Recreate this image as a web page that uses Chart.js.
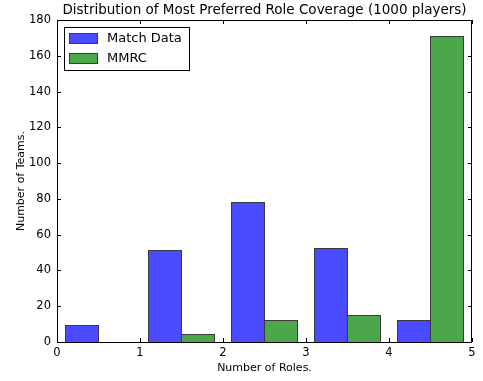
<!DOCTYPE html>
<html>
<head>
<meta charset="utf-8">
<script src="https://cdn.jsdelivr.net/npm/chart.js@4.4.0/dist/chart.umd.min.js"></script>
<style>
  body { margin: 0; background: #fff; }
  canvas { display: block; }
</style>
</head>
<body>
<canvas id="roleChart" width="483" height="381"></canvas>
<script>
// data
const roleBins = [0.5, 1.5, 2.5, 3.5, 4.5];
const matchData = [9, 51, 78, 52, 12];
const mmrcData = [0, 4, 12, 15, 171];
const xTicks = [0, 1, 2, 3, 4, 5];
const yTicks = [0, 20, 40, 60, 80, 100, 120, 140, 160, 180];

const FONT = 'DejaVu Sans';
const EDGE = '#3a3a3a';

Chart.defaults.color = '#000';
Chart.defaults.font.family = FONT;

const toPoints = (vals) => roleBins.map((x, i) => ({ x, y: vals[i] }));

// crisp bar edges over the partial pixels of the library's bar fills
const barEdges = {
  id: 'barEdges',
  afterDatasetsDraw(chart) {
    const { ctx } = chart;
    ctx.save();
    ctx.strokeStyle = EDGE;
    ctx.lineWidth = 1;
    chart.data.datasets.forEach((ds, di) => {
      chart.getDatasetMeta(di).data.forEach((bar) => {
        const l = Math.floor(bar.x - bar.width / 2);
        const r = Math.ceil(bar.x + bar.width / 2) - 1;
        const t = Math.floor(bar.y);
        const b = Math.round(bar.base);
        ctx.strokeRect(l + 0.5, t + 0.5, r - l, b - t);
      });
    });
    ctx.restore();
  }
};

// frame, inside ticks and legend box like matplotlib
const frameTicksLegend = {
  id: 'frameTicksLegend',
  afterDraw(chart) {
    const { ctx, chartArea: a, scales } = chart;
    ctx.save();
    ctx.strokeStyle = '#000';
    ctx.lineWidth = 1;
    ctx.strokeRect(a.left + 0.5, a.top + 0.5, a.right - a.left - 1, a.bottom - a.top);

    const len = 4;
    ctx.beginPath();
    xTicks.forEach((v) => {
      const px = Math.round(scales.x.getPixelForValue(v)) + 0.5;
      ctx.moveTo(px, a.bottom);
      ctx.lineTo(px, a.bottom - len);
      ctx.moveTo(px, a.top);
      ctx.lineTo(px, a.top + len);
    });
    yTicks.forEach((v) => {
      const py = Math.round(scales.y.getPixelForValue(v)) + 0.5;
      ctx.moveTo(a.left, py);
      ctx.lineTo(a.left + len, py);
      ctx.moveTo(a.right, py);
      ctx.lineTo(a.right - len, py);
    });
    ctx.stroke();

    // legend
    const bx = a.left + 7, by = a.top + 7;
    ctx.fillStyle = '#fff';
    ctx.fillRect(bx, by, 125, 43);
    ctx.strokeStyle = '#000';
    ctx.strokeRect(bx + 0.5, by + 0.5, 125, 43);
    ctx.font = '13px "' + FONT + '"';
    ctx.textBaseline = 'middle';
    chart.data.datasets.forEach((ds, i) => {
      const cy = by + 11 + i * 20;
      ctx.fillStyle = ds.backgroundColor;
      ctx.fillRect(bx + 5, cy - 5, 28, 10);
      ctx.strokeStyle = EDGE;
      ctx.strokeRect(bx + 5.5, cy - 4.5, 28, 10);
      ctx.fillStyle = '#000';
      ctx.fillText(ds.label, bx + 43, cy + 1);
    });
    ctx.restore();
  }
};

new Chart(document.getElementById('roleChart'), {
  type: 'bar',
  data: {
    datasets: [
      {
        label: 'Match Data',
        data: toPoints(matchData),
        backgroundColor: '#4a4aff',
        borderWidth: 0,
        inflateAmount: 0,
      },
      {
        label: 'MMRC',
        data: toPoints(mmrcData),
        backgroundColor: '#4ca64c',
        borderWidth: 0,
        inflateAmount: 0,
      },
    ],
  },
  options: {
    responsive: false,
    animation: false,
    categoryPercentage: 0.8,
    barPercentage: 1.0,
    layout: { padding: { left: 0, right: 11, top: 0, bottom: 0 } },
    plugins: {
      legend: { display: false },
      tooltip: { enabled: false },
      title: {
        display: true,
        fullSize: false,
        text: 'Distribution of Most Preferred Role Coverage (1000 players)',
        font: { size: 13.5, weight: 'normal' },
        padding: { top: 2, bottom: 1.8 },
      },
    },
    scales: {
      x: {
        type: 'linear',
        offset: false,
        min: 0,
        max: 5,
        afterFit: (s) => { s.height = 39; },
        afterBuildTicks: (s) => { s.ticks = xTicks.map((v) => ({ value: v })); },
        grid: { display: false, drawTicks: false },
        border: { display: false },
        ticks: { font: { size: 11.5 }, padding: 4, maxRotation: 0 },
        title: {
          display: true,
          text: 'Number of Roles.',
          font: { size: 11 },
          padding: { top: 0, bottom: 6 },
        },
      },
      y: {
        min: 0,
        max: 180,
        afterFit: (s) => { s.width = 57; },
        afterBuildTicks: (s) => { s.ticks = yTicks.map((v) => ({ value: v })); },
        grid: { display: false, drawTicks: false },
        border: { display: false },
        ticks: { font: { size: 11.5 }, padding: 6 },
        title: {
          display: true,
          text: 'Number of Teams.',
          font: { size: 11 },
          padding: { top: 15, bottom: 0 },
        },
      },
    },
  },
  plugins: [barEdges, frameTicksLegend],
});
</script>
</body>
</html>
